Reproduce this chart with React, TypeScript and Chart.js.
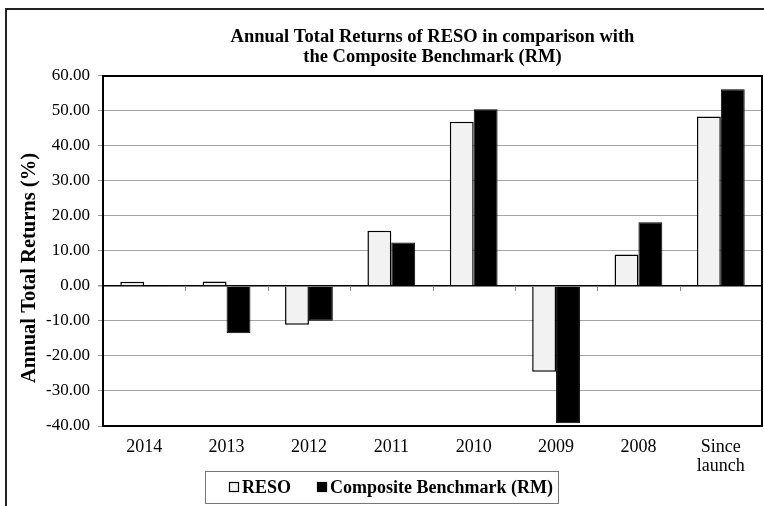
import React, { useEffect, useRef } from "react";
import { Chart, registerables } from "chart.js";

Chart.register(...registerables);

const categories: (string | string[])[] = ["2014", "2013", "2012", "2011", "2010", "2009", "2008", ["Since", "launch"]];
const resoReturns = [1.2, 1.3, -11.1, 15.8, 46.9, -24.5, 9.0, 48.4];
const benchmarkReturns = [-0.3, -13.5, -9.9, 12.4, 50.5, -39.2, 18.2, 56.2];
const seriesNames = ["RESO", "Composite Benchmark (RM)"];
const yMin = -40;
const yMax = 60;
const yStep = 10;
const titleLines = ["Annual Total Returns of RESO in comparison with", "the Composite Benchmark (RM)"];
const yAxisTitle = "Annual Total Returns (%)";

const FONT = "'Liberation Serif', 'Times New Roman', serif";

const framePlugin = {
  id: "frame",
  afterDatasetsDraw(chart: any) {
    const { ctx, chartArea: a, scales } = chart;
    ctx.save();
    ctx.strokeStyle = "#000";
    ctx.lineWidth = 2;
    ctx.beginPath();
    ctx.moveTo(a.left, a.top);
    ctx.lineTo(a.right, a.top);
    ctx.lineTo(a.right, a.bottom);
    ctx.stroke();
    const xs = scales.x;
    const y0 = scales.y.getPixelForValue(0);
    const n = xs.ticks.length;
    const w = (xs.right - xs.left) / n;
    ctx.strokeStyle = "#888";
    ctx.lineWidth = 1;
    for (let i = 1; i < n; i++) {
      const px = Math.round(xs.left + i * w) + 0.5;
      ctx.beginPath();
      ctx.moveTo(px, y0);
      ctx.lineTo(px, y0 + 5);
      ctx.stroke();
    }
    ctx.restore();
  },
};

// Rotated y-axis title, placed like the spreadsheet original
const yTitlePlugin = {
  id: "yTitle",
  afterDraw(chart: any) {
    const { ctx, chartArea: a } = chart;
    ctx.save();
    ctx.translate(30, (a.top + a.bottom) / 2 + 17);
    ctx.rotate(-Math.PI / 2);
    ctx.font = `bold 20.5px ${FONT}`;
    ctx.fillStyle = "#000";
    ctx.textAlign = "center";
    ctx.textBaseline = "middle";
    ctx.fillText(yAxisTitle, 0, 0);
    ctx.restore();
  },
};

// Boxed legend below the category labels
const legendPlugin = {
  id: "boxedLegend",
  afterDraw(chart: any) {
    const { ctx, chartArea: a } = chart;
    const ds = chart.data.datasets;
    ctx.save();
    ctx.font = `bold 18px ${FONT}`;
    const sq = 10;
    const gapText = 3;
    const gapItem = 26;
    const widths = ds.map((d: any) => ctx.measureText(d.label).width);
    let itemsW = 0;
    widths.forEach((w: number, i: number) => {
      itemsW += sq + gapText + w + (i < widths.length - 1 ? gapItem : 0);
    });
    const boxW = itemsW + 24 + 5;
    const boxTop = a.bottom + 45;
    const boxH = 32;
    const boxLeft = Math.round(chart.width / 2 - 1 - boxW / 2);
    ctx.strokeStyle = "#777";
    ctx.lineWidth = 1;
    ctx.strokeRect(boxLeft + 0.5, Math.round(boxTop) + 0.5, Math.round(boxW), boxH);
    let x = boxLeft + 24;
    const cy = boxTop + boxH / 2;
    ds.forEach((d: any, i: number) => {
      ctx.fillStyle = d.backgroundColor;
      ctx.fillRect(x, cy - sq / 2, sq, sq);
      ctx.strokeStyle = "#000";
      ctx.lineWidth = 1.2;
      ctx.strokeRect(x + 0.5, cy - sq / 2 + 0.5, sq - 1, sq - 1);
      x += sq + gapText;
      ctx.fillStyle = "#000";
      ctx.textAlign = "left";
      ctx.textBaseline = "middle";
      ctx.fillText(d.label, x, cy + 1);
      x += widths[i] + gapItem;
    });
    ctx.restore();
  },
};

export default function App() {
  const ref = useRef<HTMLCanvasElement | null>(null);

  useEffect(() => {
    if (!ref.current) return;
    const chart = new Chart(ref.current, {
      type: "bar",
      data: {
        labels: categories as any,
        datasets: [
          {
            label: seriesNames[0],
            data: resoReturns,
            backgroundColor: "#f2f2f2",
            borderColor: "#000",
            borderWidth: 1.5,
          },
          {
            label: seriesNames[1],
            data: benchmarkReturns,
            backgroundColor: "#000",
            borderColor: "#000",
            borderWidth: 1,
          },
        ],
      },
      options: {
        responsive: false,
        animation: false,
        devicePixelRatio: 1,
        layout: { padding: { left: 0, right: 2, top: 0, bottom: 30 } },
        datasets: { bar: { categoryPercentage: 0.58, barPercentage: 1 } },
        plugins: {
          title: {
            display: true,
            text: titleLines,
            fullSize: false,
            color: "#000",
            font: { family: FONT, size: 18.5, weight: "bold", lineHeight: 1.08 },
            padding: { top: 27, bottom: 9 },
          },
          legend: { display: false },
          tooltip: { enabled: false },
        },
        scales: {
          x: {
            grid: { display: false, drawTicks: false },
            border: { display: true, color: "#000", width: 2 },
            ticks: {
              color: "#000",
              font: { family: FONT, size: 18, lineHeight: 1.1 },
              padding: 11,
              maxRotation: 0,
              autoSkip: false,
            },
            afterFit: (s: any) => {
              s.height = 50;
            },
          },
          y: {
            min: yMin,
            max: yMax,
            ticks: {
              stepSize: yStep,
              callback: (v: any) => Number(v).toFixed(2),
              color: "#000",
              font: { family: FONT, size: 17 },
              padding: 8,
            },
            grid: {
              color: (c: any) => (c.tick && c.tick.value === 0 ? "#000" : "#a6a6a6"),
              lineWidth: (c: any) => (c.tick && c.tick.value === 0 ? 1.5 : 1),
              tickLength: 5,
              tickColor: "#999",
            },
            border: { color: "#000", width: 2 },
            afterFit: (s: any) => {
              s.width = 103;
            },
          },
        },
      },
      plugins: [framePlugin, yTitlePlugin, legendPlugin],
    });
    return () => chart.destroy();
  }, []);

  return (
    <div style={{ position: "fixed", left: 0, top: 0, width: 764, height: 506, overflow: "hidden", background: "#fff" }}>
      <div
        style={{
          position: "absolute",
          left: 5,
          top: 8,
          width: 800,
          height: 600,
          border: "2px solid #222",
          boxSizing: "border-box",
        }}
      />
      <canvas ref={ref} width={764} height={506} style={{ position: "absolute", left: 0, top: 0 }} />
    </div>
  );
}
